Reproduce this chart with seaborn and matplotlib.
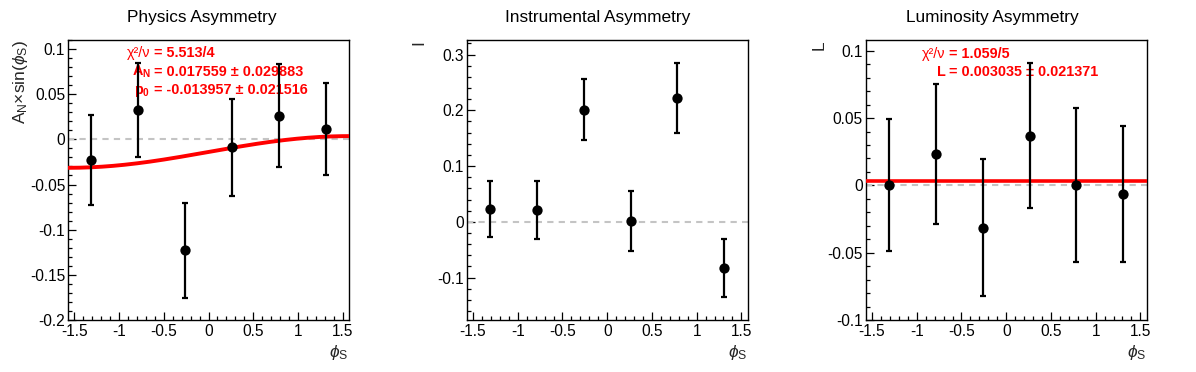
import numpy as np
import pandas as pd
import matplotlib
matplotlib.use("Agg")
import matplotlib.pyplot as plt
from matplotlib.ticker import MultipleLocator, FuncFormatter
import seaborn as sns

# ---------------- data ----------------
phi_s = [-1.309, -0.785, -0.262, 0.262, 0.785, 1.309]

phys_vals = [-0.023, 0.032, -0.123, -0.009, 0.026, 0.011]
phys_errs = [0.050, 0.052, 0.053, 0.054, 0.057, 0.051]

instr_vals = [0.023, 0.021, 0.201, 0.001, 0.222, -0.082]
instr_errs = [0.050, 0.052, 0.055, 0.054, 0.063, 0.052]

lumi_vals = [0.0005, 0.0235, -0.0315, 0.037, 0.0003, -0.0066]
lumi_errs = [0.049, 0.052, 0.051, 0.054, 0.057, 0.0504]

# fit results
phys_AN, phys_AN_err = 0.017559, 0.029883
phys_p0, phys_p0_err = -0.013957, 0.021516
phys_chi2 = "5.513/4"
lumi_L, lumi_L_err = 0.003035, 0.021371
lumi_chi2 = "1.059/5"

titles = ["Physics Asymmetry", "Instrumental Asymmetry", "Luminosity Asymmetry"]
ylabels = [r"A$_{\rm N}$$\times$sin($\phi_{\rm S}$)", "I", "L"]
xlabel = r"$\phi_{\rm S}$"

# ---------------- style ----------------
sns.set_theme(style="ticks")
plt.rcParams["font.family"] = ["Liberation Sans", "DejaVu Sans"]
plt.rcParams["axes.unicode_minus"] = False
plt.rcParams["mathtext.fontset"] = "custom"
plt.rcParams["mathtext.rm"] = "Liberation Sans"
plt.rcParams["mathtext.it"] = "Liberation Sans:italic"
plt.rcParams["mathtext.bf"] = "Liberation Sans:bold"

W, H = 1196, 372
fig = plt.figure(figsize=(W / 100, H / 100), dpi=100)

ax_left_px = [68, 466.7, 865.7]
ax_w_px = 281
ax_top_px, ax_bot_px = 40, 320
ylims = [(-0.2, 0.110), (-0.176, 0.326), (-0.1, 0.108)]
ymajor = [0.05, 0.1, 0.05]
yminor = [0.01, 0.02, 0.01]
title_x_px = [202, 597.5, 992.5]

RED = "#ff0000"
GREY = "#c4c4c4"

datasets = [(phys_vals, phys_errs), (instr_vals, instr_errs), (lumi_vals, lumi_errs)]
label_x = [-0.135, -0.142, -0.14]

def fmt(v, pos):
    s = "%g" % round(v, 6)
    if s == "-0":
        s = "0"
    return s

axes = []
for i in range(3):
    ax = fig.add_axes([ax_left_px[i] / W, (H - ax_bot_px) / H,
                       ax_w_px / W, (ax_bot_px - ax_top_px) / H])
    axes.append(ax)
    vals, errs = datasets[i]
    df = pd.DataFrame({"phi": phi_s, "val": vals, "err": errs})

    ax.axhline(0, color=GREY, lw=1.5, ls=(0, (3, 2.5)), zorder=1)

    # fit curve
    if i == 0:
        xf = np.linspace(-np.pi / 2, np.pi / 2, 200)
        fit_df = pd.DataFrame({"phi": xf, "fit": phys_p0 + phys_AN * np.sin(xf)})
        sns.lineplot(data=fit_df, x="phi", y="fit", color=RED, lw=2.8, ax=ax, zorder=3)
    elif i == 2:
        fit_df = pd.DataFrame({"phi": [-np.pi / 2, np.pi / 2], "fit": [lumi_L, lumi_L]})
        sns.lineplot(data=fit_df, x="phi", y="fit", color=RED, lw=2.6, ax=ax, zorder=3)

    ax.errorbar(df["phi"], df["val"], yerr=df["err"], fmt="none", ecolor="black",
                elinewidth=1.6, capsize=2.2, capthick=1.6, zorder=4)
    sns.scatterplot(data=df, x="phi", y="val", color="black", s=55, marker="o",
                    edgecolor="black", linewidth=0, ax=ax, zorder=5)

    ax.set_xlim(-np.pi / 2, np.pi / 2)
    ax.set_ylim(*ylims[i])
    ax.xaxis.set_major_locator(MultipleLocator(0.5))
    ax.xaxis.set_minor_locator(MultipleLocator(0.1))
    ax.yaxis.set_major_locator(MultipleLocator(ymajor[i]))
    ax.yaxis.set_minor_locator(MultipleLocator(yminor[i]))
    ax.xaxis.set_major_formatter(FuncFormatter(fmt))
    ax.yaxis.set_major_formatter(FuncFormatter(fmt))
    ax.tick_params(which="both", direction="in", top=False, right=False,
                   labelsize=11.2, colors="black", width=0.9)
    ax.tick_params(which="major", length=6)
    ax.tick_params(which="minor", length=3)
    ax.tick_params(axis="y", pad=2)
    ax.tick_params(axis="x", pad=3)
    for sp in ax.spines.values():
        sp.set_visible(True)
        sp.set_color("black")
        sp.set_linewidth(1.0)

    ax.set_xlabel(xlabel, fontsize=12.5, loc="right")
    ax.xaxis.set_label_coords(0.997, -0.082)
    ax.xaxis.label.set_va("top")
    ax.set_ylabel(ylabels[i], fontsize=12.5, loc="top")
    ax.yaxis.set_label_coords(label_x[i], 1.0)

    fig.text(title_x_px[i] / W, (H - 22) / H, titles[i], ha="center",
             va="baseline", fontsize=12.4, color="black")

# fit annotations
def fit_lines(ax, x_eq, ys, lhs_list, rhs_list):
    for y, lhs, rhs in zip(ys, lhs_list, rhs_list):
        ax.text(x_eq - 0.012, y, lhs, transform=ax.transAxes, ha="right",
                va="baseline", color=RED, fontsize=10.4,
                fontweight="normal" if lhs.startswith("χ") else "bold")
        ax.text(x_eq, y, rhs, transform=ax.transAxes, ha="left", va="baseline",
                color=RED, fontsize=10.4, fontweight="bold")

fit_lines(axes[0], 0.306, [0.939, 0.8725, 0.807],
          ["χ²/ν", r"$\mathbf{A}_{\mathbf{N}}$", r"$\mathbf{p}_{\mathbf{0}}$"],
          ["= " + phys_chi2,
           "= %.6f ± %.6f" % (phys_AN, phys_AN_err),
           "= %.6f ± %.6f" % (phys_p0, phys_p0_err)])
fit_lines(axes[2], 0.296, [0.937, 0.8725],
          ["χ²/ν", "L"],
          ["= " + lumi_chi2, "= %.6f ± %.6f" % (lumi_L, lumi_L_err)])

fig.savefig("out.png", dpi=100, facecolor="white")
